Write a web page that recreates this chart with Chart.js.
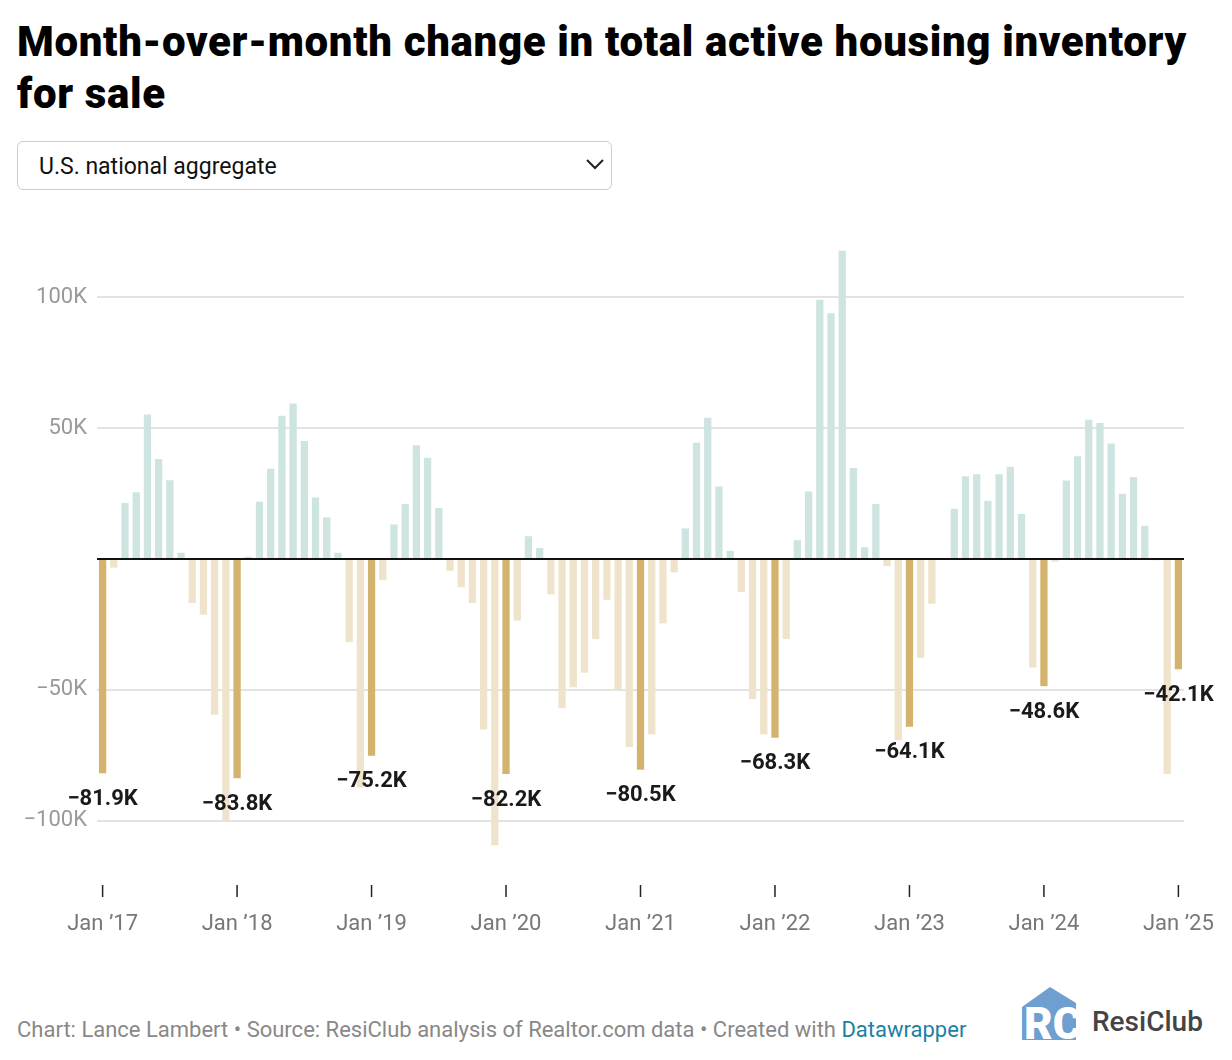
<!DOCTYPE html>
<html><head><meta charset="utf-8">
<script src="https://cdn.jsdelivr.net/npm/chart.js@4"></script>
<style>
body{margin:0;background:#fff;font-family:Roboto,"Noto Sans",sans-serif;width:1232px;height:1060px;position:relative;overflow:hidden}
h1{position:absolute;left:17px;top:16px;margin:0;font-size:42px;line-height:52px;font-weight:900;color:#000;letter-spacing:0.65px;width:1200px}
.sel{position:absolute;left:17px;top:141px;width:595px;height:49px;border:1px solid #ccc;border-radius:6px;box-sizing:border-box}
.sel span{position:absolute;left:21px;top:11px;font-size:23px;color:#111}
.sel svg{position:absolute;right:6px;top:15px}
#wrap{position:absolute;left:0;top:220px;width:1232px;height:730px}
.foot{position:absolute;left:17px;top:1017px;font-size:22px;color:#888}
.foot a{color:#1d81a2;text-decoration:none}
.logo{position:absolute;left:1020px;top:985px;width:200px;height:60px}
</style></head><body>
<h1>Month-over-month change in total active housing inventory for sale</h1>
<div class="sel"><span>U.S. national aggregate</span><svg width="20" height="14"><polyline points="2,3 10,11 18,3" fill="none" stroke="#222" stroke-width="2"/></svg></div>
<div id="wrap"><canvas id="c"></canvas></div>
<div class="foot">Chart: Lance Lambert • Source: ResiClub analysis of Realtor.com data • Created with <a>Datawrapper</a></div>
<div class="logo"><svg width="200" height="60">
<polygon points="2,22 30,2 56,18 56,55 2,55" fill="#6f9fce"/>
<text x="4" y="54" font-family="Roboto" font-weight="900" font-size="44" fill="#fff">RC</text>
<text x="72" y="46" font-family="Roboto" font-weight="500" font-size="28" fill="#444">ResiClub</text>
</svg></div>
<script>
const years=["’17","’18","’19","’20","’21","’22","’23","’24","’25"];
const months=["Jan","Feb","Mar","Apr","May","Jun","Jul","Aug","Sep","Oct","Nov","Dec"];
const values=[
-81.9,-3.3,21.4,25.5,55.2,38.2,30.1,2.4,-16.8,-21.3,-59.5,-100.2,
-83.8,0.9,21.9,34.5,54.7,59.4,45.1,23.5,15.9,2.4,-31.8,-87.3,
-75.2,-8.1,13.2,21.0,43.5,38.7,19.5,-4.5,-10.8,-16.8,-65.2,-109.4,
-82.2,-23.5,8.7,4.2,-13.5,-57.0,-49.0,-43.5,-30.6,-15.6,-50.2,-71.8,
-80.5,-67.0,-24.6,-5.1,11.7,44.4,54.0,27.7,3.1,-12.6,-53.5,-67.0,
-68.3,-30.6,7.2,25.8,99.1,93.9,117.8,34.8,4.5,21.0,-2.7,-69.3,
-64.1,-37.8,-17.1,0,19.2,31.6,32.4,22.2,32.4,35.2,17.2,-41.5,
-48.6,-1.0,30.0,39.3,53.2,52.0,44.1,24.9,31.3,12.7,-0.5,-82.2,
-42.1];
const labels=values.map((v,i)=>months[i%12]+" "+years[Math.floor(i/12)]);
const yTicks=[-100,-50,50,100];
const colors=values.map((v,i)=>i%12===0?"#d4b36f":(v>=0?"#cde4e1":"#efe4cb"));
const overlay={id:"ov",afterDatasetsDraw(ch){
 const c=ch.ctx,x=ch.scales.x,y=ch.scales.y,a=ch.chartArea;
 c.save();
 c.strokeStyle="#111";c.lineWidth=2;c.beginPath();c.moveTo(a.left,y.getPixelForValue(0));c.lineTo(a.right,y.getPixelForValue(0));c.stroke();
 c.textAlign="center";c.textBaseline="middle";
 c.lineWidth=1.5;
 values.forEach((v,i)=>{if(i%12)return;const px=x.getPixelForValue(i);
  c.font="bold 22px Roboto";c.fillStyle="#1a1a1a";
  c.fillText((v<0?"−":"")+Math.abs(v).toFixed(1)+"K",px,y.getPixelForValue(v)+26);
  c.strokeStyle="#222";c.beginPath();c.moveTo(px,a.bottom+12);c.lineTo(px,a.bottom+24);c.stroke();
  c.font="22px Roboto";c.fillStyle="#777";c.fillText(labels[i],px,a.bottom+51);});
 c.restore();}};
new Chart(document.getElementById("c"),{type:"bar",
 data:{labels,datasets:[{data:values,backgroundColor:colors,barPercentage:0.65,categoryPercentage:1}]},
 options:{responsive:true,maintainAspectRatio:false,animation:false,devicePixelRatio:1,
  layout:{padding:{top:25,right:48,bottom:77,left:0}},
  plugins:{legend:{display:false},tooltip:{enabled:false}},
  scales:{x:{display:false},
   y:{min:-120,max:120,afterBuildTicks(ax){ax.ticks=yTicks.map(v=>({value:v}));},
    afterFit(ax){ax.width=97;},border:{display:false},
    grid:{color:"#e3e3e3",lineWidth:2,drawTicks:false},
    ticks:{padding:10,color:"#999",font:{size:22,family:"Roboto"},callback:v=>(v<0?"−":"")+Math.abs(v)+"K"}}}},
 plugins:[overlay]});
</script></body></html>
